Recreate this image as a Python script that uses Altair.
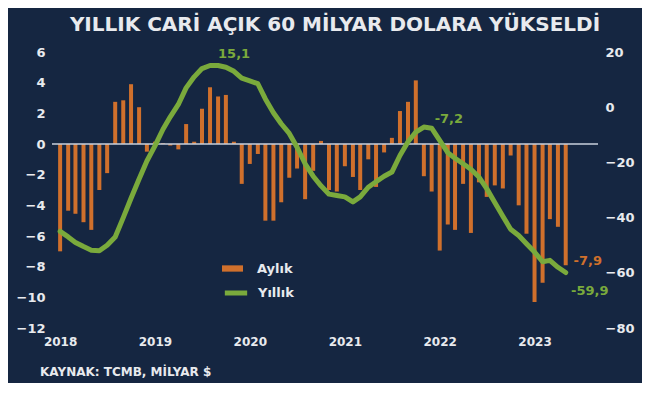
import altair as alt
import pandas as pd

BG = "#152641"
ORANGE = "#d0702c"
GREEN = "#7aaa3c"
TXT = "#e8eaee"
FONT = "DejaVu Sans"

months = pd.date_range("2018-01-01", periods=65, freq="MS")

monthly = [
    -7.0, -4.35, -4.55, -5.1, -5.6, -3.0, -1.9, 2.75, 2.85, 3.9, 2.4, -0.5,
    0.15, 0.05, -0.1, -0.35, 1.3, 0.15, 2.3, 3.7, 3.1, 3.2, 0.15, -2.6,
    -1.3, -0.65, -5.0, -5.0, -3.8, -2.2, -1.6, -3.6, -1.75, 0.2, -3.0, -3.1,
    -1.45, -2.15, -3.0, -1.0, -2.8, -0.55, 0.4, 2.15, 2.75, 4.15, -2.1, -3.1,
    -6.95, -5.25, -5.6, -2.6, -5.8, -2.5, -3.45, -2.7, -2.9, -0.75, -4.0, -5.85,
    -10.3, -9.05, -4.9, -5.4, -7.9,
]

annual = [
    -45.0, -47.0, -49.0, -50.5, -51.8, -52.0, -50.0, -47.0, -40.0, -33.0, -26.0, -19.5,
    -14.0, -8.0, -3.5, 1.0, 7.0, 11.0, 14.0, 15.1, 15.1, 14.5, 13.0, 10.5,
    9.5, 8.5, 3.0, -2.0, -6.0, -9.5, -14.5, -20.5, -25.0, -28.5, -31.5, -32.0,
    -32.5, -34.3, -32.5, -29.0, -27.0, -25.0, -23.5, -17.5, -12.5, -9.0, -7.2, -7.6,
    -12.0, -16.5, -18.5, -20.5, -22.5, -25.3, -29.5, -34.5, -39.5, -44.2, -46.5, -49.5,
    -52.5, -56.0, -55.5, -58.0, -59.9,
]

years = [2018, 2019, 2020, 2021, 2022, 2023]
left_ticks = [-12, -10, -8, -6, -4, -2, 0, 2, 4, 6]
right_ticks = [-80, -60, -40, -20, 0, 20]

df = pd.DataFrame({"date": months, "monthly": monthly, "annual": annual,
                   "s1": "Aylık", "s2": "Yıllık"})

# annotation rows taken from the series
green_idx = [20, 46, 64]
green_txt = ["15,1", "-7,2", "-59,9"]
green_dx = [16, 25, 24]
green_dy = [-12, -8, 18]
orange_idx = [64]
orange_txt = ["-7,9"]

x_enc = alt.X("date:T",
              scale=alt.Scale(domain=[alt.DateTime(year=2017, month=12, date=20),
                                      alt.DateTime(year=2023, month=8, date=14)]),
              axis=alt.Axis(values=[alt.DateTime(year=y, month=1, date=1) for y in years],
                            format="%Y", title=None, ticks=False, domain=False, grid=False,
                            labelPadding=8, labelFontSize=12, labelFontWeight="bold",
                            labelColor=TXT, labelFont=FONT))

left_scale = alt.Scale(domain=[-12, 6], nice=False)
right_scale = alt.Scale(domain=[-80, 20], nice=False)

bars = alt.Chart(df).mark_bar(width=4).encode(
    x=x_enc,
    y=alt.Y("monthly:Q", scale=left_scale,
            axis=alt.Axis(orient="left", values=left_ticks, title=None, ticks=False,
                          domain=False, grid=False, labelPadding=7, labelFontSize=13,
                          labelFontWeight="bold", labelColor=TXT, labelFont=FONT)),
    fill=alt.Fill("s1:N", scale=alt.Scale(domain=["Aylık"], range=[ORANGE]),
                  legend=alt.Legend(title=None, orient="none", legendX=170, legendY=206,
                                    symbolType="M-1,-0.3H1V0.3H-1Z", symbolSize=441,
                                    symbolStrokeWidth=0, labelOffset=14,
                                    labelFontSize=13, labelFontWeight="bold",
                                    labelColor=TXT, labelFont=FONT)),
)

zero = alt.Chart(pd.DataFrame({"z": [0]})).mark_rule(color="#c9d1dd", strokeWidth=1.5).encode(
    y=alt.Y("z:Q", scale=left_scale, axis=None)
)

orange_lab = alt.Chart(df.iloc[orange_idx].assign(t=orange_txt)).mark_text(
    color=ORANGE, font=FONT, fontWeight="bold", fontSize=13, dx=22, dy=-4
).encode(x=x_enc, y=alt.Y("monthly:Q", scale=left_scale, axis=None), text="t:N")

line = alt.Chart(df).mark_line(strokeWidth=5, strokeCap="round", strokeJoin="round").encode(
    x=x_enc,
    y=alt.Y("annual:Q", scale=right_scale,
            axis=alt.Axis(orient="right", values=right_ticks, title=None, ticks=False,
                          domain=False, grid=False, labelPadding=7, labelFontSize=13,
                          labelFontWeight="bold", labelColor=TXT, labelFont=FONT)),
    stroke=alt.Stroke("s2:N", scale=alt.Scale(domain=["Yıllık"], range=[GREEN]),
                      legend=alt.Legend(title=None, orient="none", legendX=170, legendY=227,
                                        symbolType="stroke", symbolSize=500,
                                        symbolStrokeWidth=5, labelOffset=8,
                                        labelFontSize=13, labelFontWeight="bold",
                                        labelColor=TXT, labelFont=FONT)),
)

gsub = df.iloc[green_idx].assign(t=green_txt, dx=green_dx, dy=green_dy)
green_labs = []
for k in range(len(green_idx)):
    green_labs.append(
        alt.Chart(gsub.iloc[[k]]).mark_text(
            color=GREEN, font=FONT, fontWeight="bold", fontSize=13,
            dx=green_dx[k], dy=green_dy[k]
        ).encode(x=x_enc, y=alt.Y("annual:Q", scale=right_scale, axis=None), text="t:N")
    )

source = alt.Chart(pd.DataFrame({"t": ["KAYNAK: TCMB, MİLYAR $"]})).mark_text(
    align="left", baseline="middle", color=TXT, font=FONT, fontWeight="bold", fontSize=12
).encode(x=alt.value(-12), y=alt.value(320), text="t:N")

chart = alt.layer(bars, zero, orange_lab, line, *green_labs, source).resolve_scale(
    y="independent", fill="independent", stroke="independent"
).properties(
    width=546, height=276,
    background=BG,
    padding={"left": 44, "top": 44, "right": 44, "bottom": 55},
    autosize=alt.AutoSizeParams(type="none"),
    title=alt.Title("YILLIK CARİ AÇIK 60 MİLYAR DOLARA YÜKSELDİ", fontSize=20,
                    font=FONT, fontWeight="bold", color=TXT, anchor="middle",
                    offset=11, dx=10),
).configure_view(stroke=None)

chart.save("out.html", embed_options={"renderer": "svg", "actions": False})
